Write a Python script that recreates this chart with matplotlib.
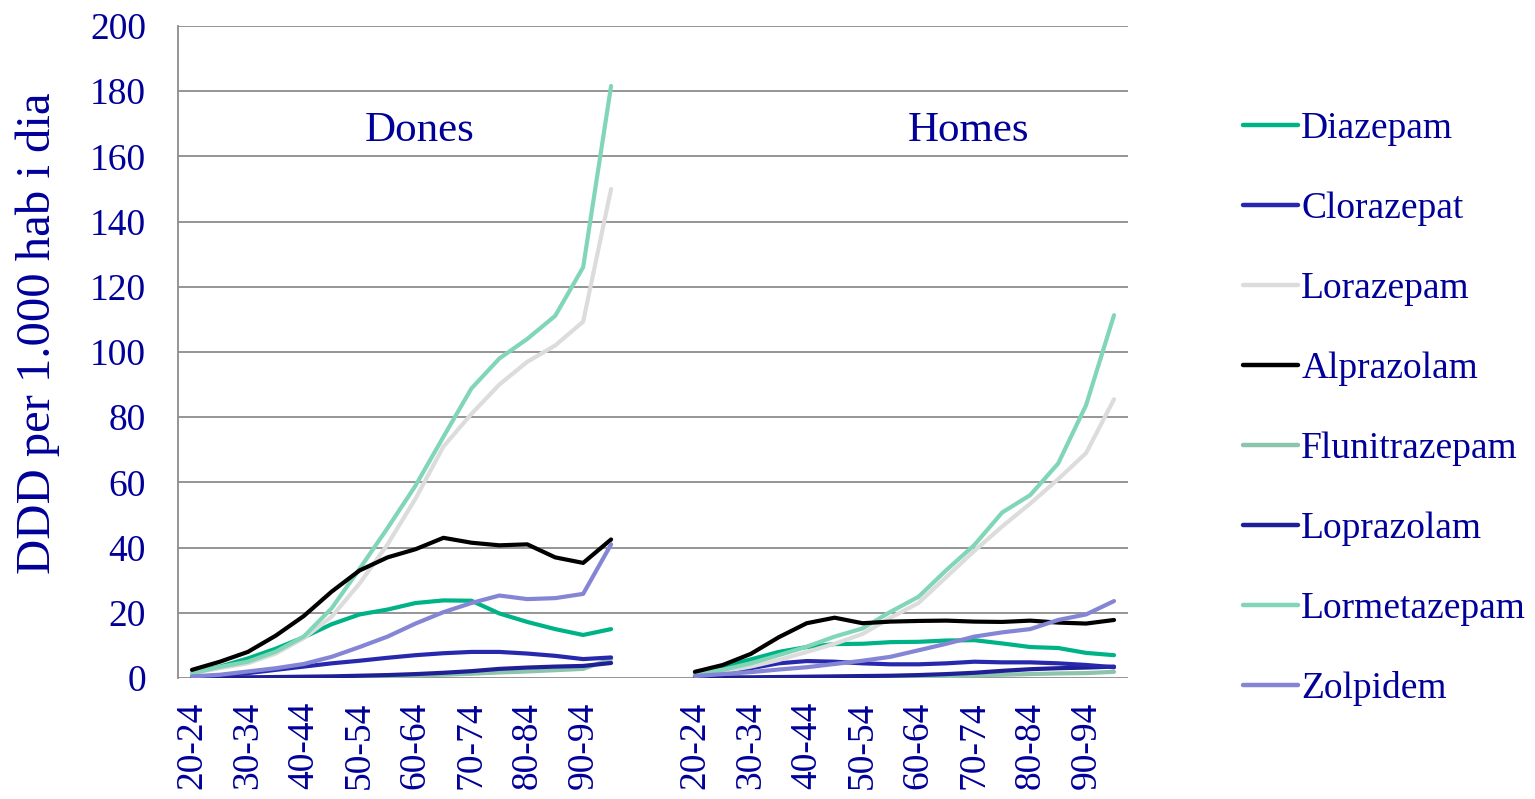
import matplotlib
matplotlib.use("Agg")
import matplotlib.pyplot as plt
import numpy as np

ages = ["20-24", "25-29", "30-34", "35-39", "40-44", "45-49", "50-54", "55-59",
        "60-64", "65-69", "70-74", "75-79", "80-84", "85-89", "90-94", "95+"]
groups = ["Dones", "Homes"]

series_names = ["Diazepam", "Clorazepat", "Lorazepam", "Alprazolam",
                "Flunitrazepam", "Loprazolam", "Lormetazepam", "Zolpidem"]

diazepam_dones = [1.5, 3.5, 6, 9, 12.5, 16.5, 19.5, 21, 23, 23.8, 23.7, 19.8, 17.2, 15, 13.2, 15]
diazepam_homes = [1.4, 3.5, 5.7, 8, 9.5, 10.4, 10.5, 11, 11.1, 11.5, 11.6, 10.6, 9.5, 9.2, 7.7, 7]
clorazepat_dones = [0.3, 0.8, 1.5, 2.5, 3.5, 4.5, 5.3, 6.2, 7, 7.6, 8, 8, 7.5, 6.8, 5.8, 6.3]
clorazepat_homes = [0.5, 1.5, 3, 4.5, 5.2, 5, 4.5, 4.2, 4.2, 4.5, 5, 4.8, 4.8, 4.5, 4, 3.3]
lorazepam_dones = [1.5, 3, 4.5, 7.5, 12.2, 18.8, 29, 41, 55, 71, 81, 90, 97, 102, 109.3, 150]
lorazepam_homes = [0.8, 2, 3.5, 5.5, 8, 10.5, 13.5, 18.5, 23, 31, 39, 46.5, 53.5, 61, 69, 85.5]
alprazolam_dones = [2.5, 5, 8, 13, 19, 26.5, 33, 37, 39.5, 43, 41.5, 40.7, 41, 37, 35.3, 42.5]
alprazolam_homes = [1.9, 4, 7.4, 12.5, 16.8, 18.5, 16.8, 17.3, 17.5, 17.6, 17.3, 17.2, 17.6, 17.0, 16.7, 17.8]
flunitrazepam_dones = [0.05, 0.1, 0.1, 0.15, 0.2, 0.3, 0.4, 0.6, 0.8, 1.0, 1.3, 1.7, 2.0, 2.4, 2.8, 5.8]
flunitrazepam_homes = [0.05, 0.1, 0.1, 0.15, 0.2, 0.25, 0.3, 0.4, 0.5, 0.6, 0.8, 1.0, 1.2, 1.4, 1.5, 1.9]
loprazolam_dones = [0.1, 0.15, 0.2, 0.3, 0.4, 0.5, 0.7, 0.9, 1.2, 1.6, 2.1, 2.8, 3.2, 3.5, 3.7, 4.6]
loprazolam_homes = [0.1, 0.15, 0.2, 0.3, 0.4, 0.5, 0.6, 0.7, 0.9, 1.2, 1.6, 2.2, 2.7, 3.0, 3.2, 3.5]
lormetazepam_dones = [1.5, 3.4, 5, 8.1, 12.7, 21.4, 33.5, 46, 59, 74, 88.8, 98, 104, 111.1, 126, 181.6]
lormetazepam_homes = [1.4, 2.5, 4.5, 7, 9.6, 12.7, 15.2, 20.3, 24.9, 33.1, 40.8, 50.8, 56.1, 65.8, 83.7, 111.3]
zolpidem_dones = [0.5, 1, 2, 3, 4.3, 6.5, 9.5, 12.7, 16.7, 20.2, 23, 25.3, 24.2, 24.5, 25.8, 41]
zolpidem_homes = [0.6, 1.2, 1.8, 2.6, 3.3, 4.3, 5.3, 6.5, 8.5, 10.5, 12.7, 14, 15, 17.8, 19.5, 23.6]

data = {
    "Diazepam": (diazepam_dones, diazepam_homes),
    "Clorazepat": (clorazepat_dones, clorazepat_homes),
    "Lorazepam": (lorazepam_dones, lorazepam_homes),
    "Alprazolam": (alprazolam_dones, alprazolam_homes),
    "Flunitrazepam": (flunitrazepam_dones, flunitrazepam_homes),
    "Loprazolam": (loprazolam_dones, loprazolam_homes),
    "Lormetazepam": (lormetazepam_dones, lormetazepam_homes),
    "Zolpidem": (zolpidem_dones, zolpidem_homes),
}
colors = {
    "Diazepam": "#00B386",
    "Clorazepat": "#2828AE",
    "Lorazepam": "#DCDCDC",
    "Alprazolam": "#000000",
    "Flunitrazepam": "#8CC4AC",
    "Loprazolam": "#1F1F96",
    "Lormetazepam": "#80D6B6",
    "Zolpidem": "#8585D6",
}

TXT = "#000099"
FONT = ["Liberation Serif", "DejaVu Serif"]
plt.rcParams["font.family"] = FONT

fig = plt.figure(figsize=(15.35, 7.99), dpi=100)
ax = fig.add_axes([178/1535, 1-678/799, (1128-178)/1535, (678-26)/799])

n = len(ages)
gap = 2
x_d = np.arange(n)
x_h = np.arange(n) + n + gap

draw_order = ["Flunitrazepam", "Loprazolam", "Clorazepat", "Diazepam",
              "Lorazepam", "Lormetazepam", "Alprazolam", "Zolpidem"]
handles = {}
for name in draw_order:
    d, h = data[name]
    l, = ax.plot(x_d, d, color=colors[name], lw=3.0, solid_capstyle="round", solid_joinstyle="round")
    ax.plot(x_h, h, color=colors[name], lw=3.0, solid_capstyle="round", solid_joinstyle="round")
    handles[name] = l

ax.set_xlim(-0.5, 2*n + gap - 0.5)
ax.set_ylim(0, 200)
ax.set_yticks(np.arange(0, 201, 20))
ax.yaxis.grid(True, color="#8C8C8C", lw=1.3)
ax.set_axisbelow(True)
for s in ["top", "right", "bottom"]:
    ax.spines[s].set_visible(False)
ax.spines["left"].set_color("#8C8C8C")
ax.spines["left"].set_linewidth(1.3)

tick_pos = list(x_d[::2]) + list(x_h[::2])
tick_lab = ages[::2] + ages[::2]
ax.set_xticks(tick_pos)
ax.set_xticklabels(tick_lab, rotation=90, color=TXT, fontsize=27, va="top")
ax.tick_params(axis="x", length=0, pad=17)
ax.tick_params(axis="y", length=0, pad=23, labelcolor=TXT, labelsize=27)

ax.set_ylabel("DDD per 1.000 hab i dia", color=TXT, fontsize=35)
ax.yaxis.set_label_coords(-0.1245, 0.529)

ax.text(8.16, 168, groups[0], color=TXT, fontsize=31, ha="center", va="center")
ax.text(27.8, 168, groups[1], color=TXT, fontsize=31, ha="center", va="center")

leg = fig.legend([handles[s] for s in series_names], series_names,
                 loc="center left", bbox_to_anchor=(1243/1535, 1-409/799),
                 frameon=False, fontsize=27, labelcolor=TXT,
                 handlelength=1.47, handletextpad=0.08, labelspacing=1.21,
                 borderaxespad=0, borderpad=0)
for lh in leg.get_lines():
    lh.set_linewidth(3.2)

fig.savefig("out.png", dpi=100)
